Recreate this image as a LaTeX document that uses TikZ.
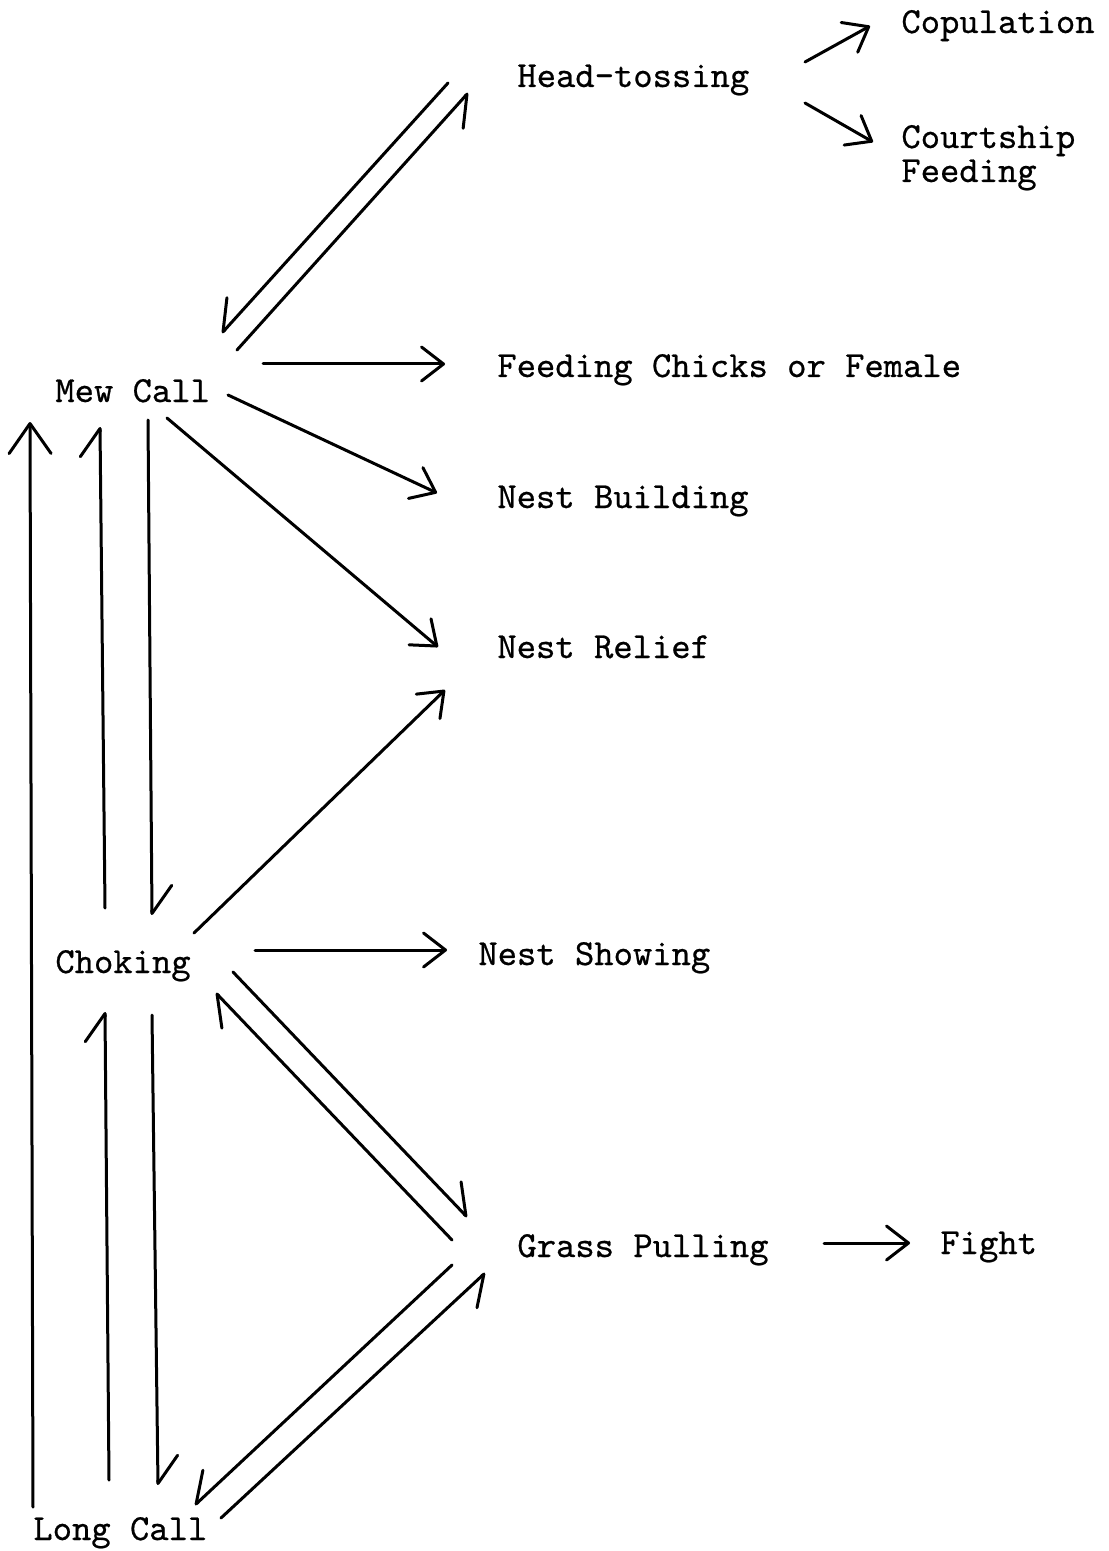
\documentclass[tikz,border=0pt]{standalone}
\usepackage{fontspec}
\newfontfamily\typewriter{lmmono10-regular.otf}[FakeBold=0.6]
\usetikzlibrary{arrows.meta}

\begin{document}
\begin{tikzpicture}[x=0.5pt,y=-0.5pt,
  label/.style={inner sep=0pt, anchor=base west,
    font=\typewriter\fontsize{18.4pt}{17pt}\selectfont},
  link/.style={line width=1.5pt, line cap=round, line join=round},
  tipfull/.style={link, -{Straight Barb[length=11pt,width=17pt,round]}},
  tipbig/.style={link, -{Straight Barb[length=15pt,width=21pt,round]}},
  tipleft/.style={link, -{Straight Barb[length=14pt,width=20pt,left,round]}},
  tipright/.style={link, -{Straight Barb[length=14pt,width=20pt,right,round]}}]

\useasboundingbox (0,0) rectangle (1108,1551);

% behaviour labels
\node[label] (ht)    at (517,87)   {Head-tossing};
\node[label] (cop)   at (901,33)   {Copulation};
\node[label, align=left] (court) at (901,182) {Courtship\\Feeding};
\node[label] (fcf)   at (497,377)  {Feeding Chicks or Female};
\node[label] (mew)   at (55,402)   {Mew Call};
\node[label] (nb)    at (497,508)  {Nest Building};
\node[label] (nr)    at (497,658)  {Nest Relief};
\node[label] (chk)   at (55,973)   {Choking};
\node[label] (ns)    at (478,965)  {Nest Showing};
\node[label] (gp)    at (517,1257) {Grass Pulling};
\node[label] (fight) at (940,1254) {Fight};
\node[label] (lc)    at (33,1540)  {Long Call};

% connector end points
\coordinate (ht-mew-s)  at (448,83);   \coordinate (ht-mew-e)  at (222,333);
\coordinate (mew-ht-s)  at (237,350);  \coordinate (mew-ht-e)  at (468,93);
\coordinate (mew-fcf-s) at (263,364);  \coordinate (mew-fcf-e) at (445,364);
\coordinate (mew-nb-s)  at (228,395);  \coordinate (mew-nb-e)  at (437,493);
\coordinate (mew-nr-s)  at (167,418);  \coordinate (mew-nr-e)  at (438,647);
\coordinate (chk-nr-s)  at (194,933);  \coordinate (chk-nr-e)  at (445,690);
\coordinate (chk-ns-s)  at (255,950);  \coordinate (chk-ns-e)  at (447,950);
\coordinate (chk-gp-s)  at (233,972);  \coordinate (chk-gp-e)  at (467,1217);
\coordinate (gp-chk-s)  at (452,1240); \coordinate (gp-chk-e)  at (216,993);
\coordinate (gp-lc-s)   at (452,1265); \coordinate (gp-lc-e)   at (195,1505);
\coordinate (lc-gp-s)   at (221,1518); \coordinate (lc-gp-e)   at (485,1273);
\coordinate (lc-mew-s)  at (33,1507);  \coordinate (lc-mew-e)  at (30,422);
\coordinate (chk-mew-s) at (105,908);  \coordinate (chk-mew-e) at (100,427);
\coordinate (mew-chk-s) at (148,420);  \coordinate (mew-chk-e) at (152,915);
\coordinate (lc-chk-s)  at (109,1480); \coordinate (lc-chk-e)  at (105,1012);
\coordinate (chk-lc-s)  at (152,1015); \coordinate (chk-lc-e)  at (158,1485);
\coordinate (ht-cop-s)  at (805,62);   \coordinate (ht-cop-e)  at (870,26);
\coordinate (ht-crt-s)  at (805,103);  \coordinate (ht-crt-e)  at (873,142);
\coordinate (gp-fgt-s)  at (824,1243); \coordinate (gp-fgt-e)  at (910,1243);

% transitions
\draw[tipright] (ht-mew-s) -- (ht-mew-e);
\draw[tipright] (mew-ht-s) -- (mew-ht-e);
\draw[tipfull]  (mew-fcf-s) -- (mew-fcf-e);
\draw[tipfull]  (mew-nb-s) -- (mew-nb-e);
\draw[tipfull]  (mew-nr-s) -- (mew-nr-e);
\draw[tipfull]  (chk-nr-s) -- (chk-nr-e);
\draw[tipfull]  (chk-ns-s) -- (chk-ns-e);
\draw[tipleft]  (chk-gp-s) -- (chk-gp-e);
\draw[tipleft]  (gp-chk-s) -- (gp-chk-e);
\draw[tipright] (gp-lc-s) -- (gp-lc-e);
\draw[tipright] (lc-gp-s) -- (lc-gp-e);
\draw[tipbig]   (lc-mew-s) -- (lc-mew-e);
\draw[tipleft]  (chk-mew-s) -- (chk-mew-e);
\draw[tipleft]  (mew-chk-s) -- (mew-chk-e);
\draw[tipleft]  (lc-chk-s) -- (lc-chk-e);
\draw[tipleft]  (chk-lc-s) -- (chk-lc-e);
\draw[tipfull]  (ht-cop-s) -- (ht-cop-e);
\draw[tipfull]  (ht-crt-s) -- (ht-crt-e);
\draw[tipfull]  (gp-fgt-s) -- (gp-fgt-e);
\end{tikzpicture}
\end{document}
